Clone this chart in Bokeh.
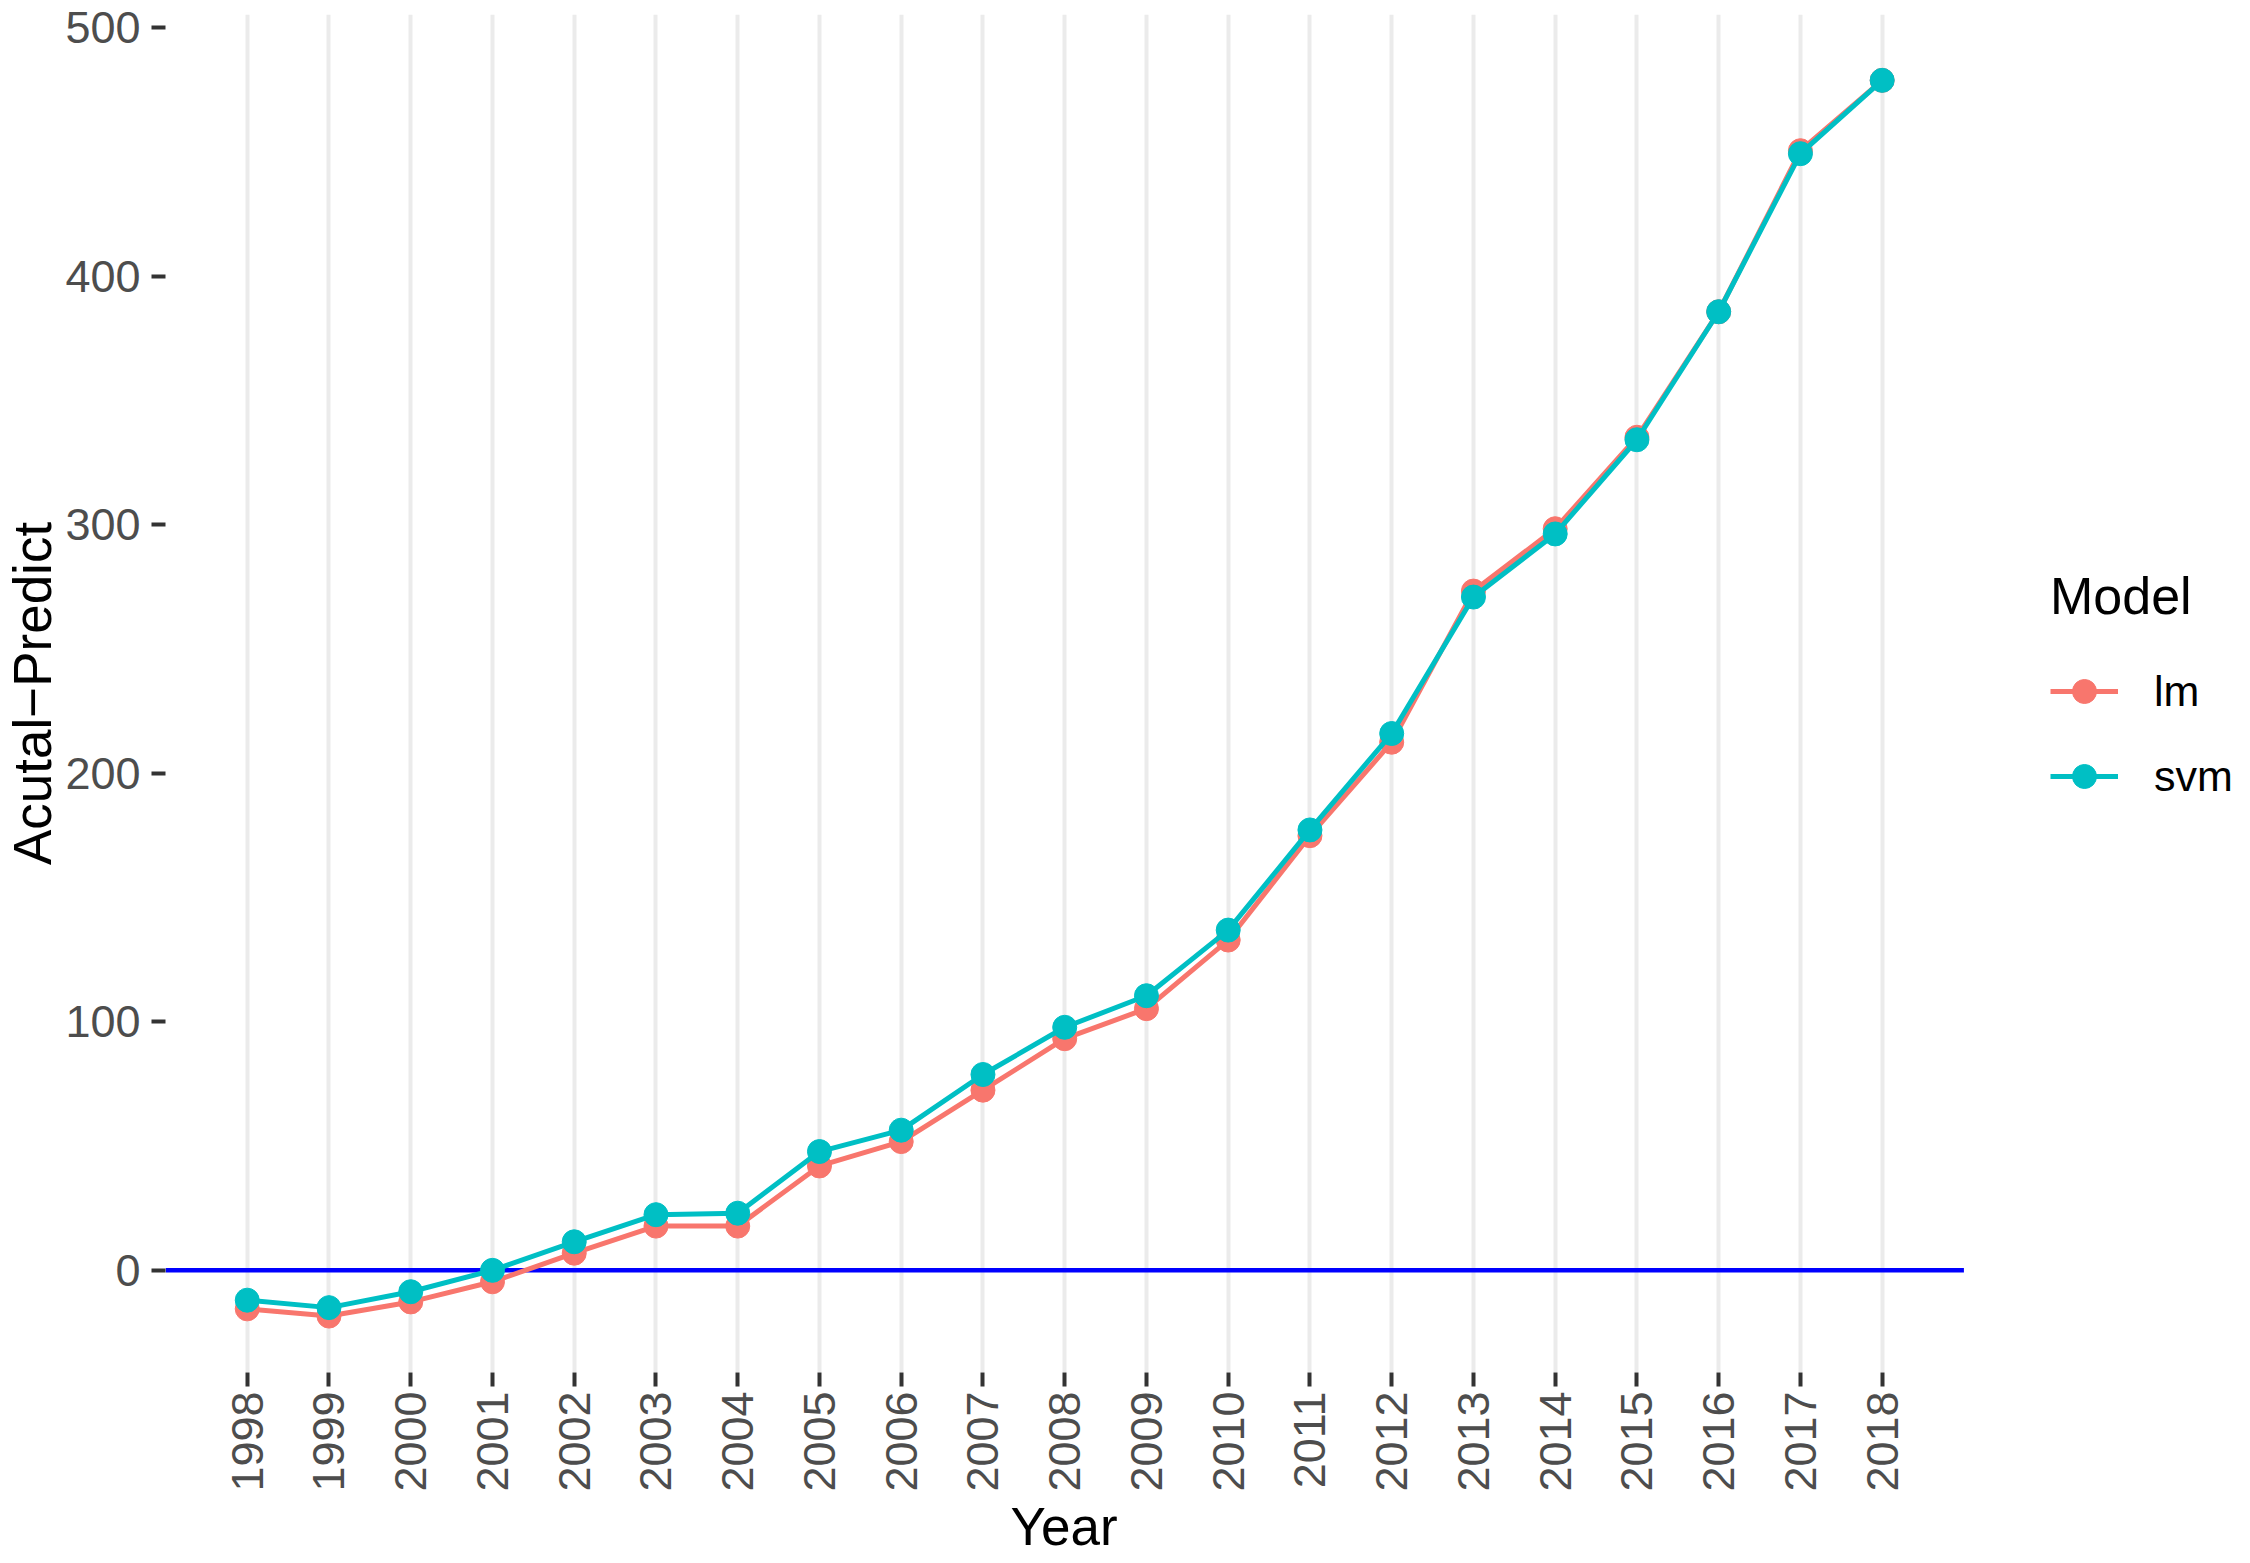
from bokeh.plotting import figure
from bokeh.models import (Range1d, FixedTicker, Legend, LegendItem, Title)
from bokeh.embed import file_html
from bokeh.resources import INLINE

years = list(range(1998, 2019))
lm = [-15.5, -18.4, -12.7, -4.6, 6.9, 17.8, 17.8, 42.0, 51.8, 72.5, 93.2,
      105.3, 132.9, 174.9, 212.5, 273.3, 298.4, 335.2, 385.7, 450.5, 478.8]
svm = [-12.0, -15.0, -8.6, 0.0, 11.5, 22.4, 23.0, 47.8, 56.4, 78.8, 97.8,
       110.5, 136.9, 177.2, 216.0, 270.9, 296.3, 334.2, 385.7, 449.3, 478.8]
y_ticks = [0, 100, 200, 300, 400, 500]
series_names = ["lm", "svm"]
series_colors = ["#F8766D", "#00BFC4"]

FONT = "Liberation Sans"

x_lo = years[0] - 1
x_hi = years[-1] + 1

p = figure(width=2234, height=1555, output_backend="svg", toolbar_location=None,
           x_range=Range1d(x_lo, 2022.31), y_range=Range1d(-41.1, 505.3),
           min_border_left=162, min_border_right=0, min_border_top=14,
           min_border_bottom=150)
p.outline_line_color = None
p.background_fill_color = "white"
p.border_fill_color = "white"

# grid
p.xgrid.ticker = FixedTicker(ticks=years)
p.xgrid.grid_line_color = "#EBEBEB"
p.xgrid.grid_line_width = 4
p.ygrid.grid_line_color = None

# x axis
p.xaxis.ticker = FixedTicker(ticks=years)
p.xaxis.major_label_orientation = 1.5707963
p.xaxis.axis_line_color = None
p.xaxis.major_tick_in = 0
p.xaxis.major_tick_out = 14
p.xaxis.minor_tick_line_color = None
p.xaxis.major_tick_line_color = "#333333"
p.xaxis.major_tick_line_width = 4
p.xaxis.major_label_standoff = 5

# y axis
p.yaxis.ticker = FixedTicker(ticks=y_ticks)
p.yaxis.axis_label = "Acutal\u2212Predict"
p.yaxis.axis_line_color = None
p.yaxis.major_tick_in = 0
p.yaxis.major_tick_out = 14
p.yaxis.minor_tick_line_color = None
p.yaxis.major_tick_line_color = "#333333"
p.yaxis.major_tick_line_width = 4
p.yaxis.major_label_standoff = 11
p.yaxis.axis_label_standoff = 0

for ax in (p.xaxis, p.yaxis):
    ax.major_label_text_font = FONT
    ax.major_label_text_font_size = "45px"
    ax.major_label_text_color = "#4D4D4D"
    ax.axis_label_text_font = FONT
    ax.axis_label_text_font_size = "53px"
    ax.axis_label_text_font_style = "normal"
    ax.axis_label_text_color = "black"

# x axis title placed under the data area
xtitle = Title(text="Year", align="left", offset=845, standoff=0,
               text_font=FONT, text_font_size="53px",
               text_font_style="normal", text_color="black")
p.add_layout(xtitle, "below")

# zero line across the data area
p.segment(x0=[x_lo], x1=[x_hi], y0=[0], y1=[0], line_color="#0000FF",
          line_width=4.5)

items = []
for name, vals, col in zip(series_names, [lm, svm], series_colors):
    lr = p.line(years, vals, line_color=col, line_width=5)
    cr = p.scatter(years, vals, size=24, fill_color=col, line_color=col)
    items.append(LegendItem(label=name, renderers=[lr, cr]))

legend = Legend(items=items, title="Model", location=(1885, 566))
legend.title_text_font = FONT
legend.title_text_font_size = "52px"
legend.title_text_font_style = "normal"
legend.title_text_color = "black"
legend.title_standoff = 35
legend.label_text_font = FONT
legend.label_text_font_size = "43px"
legend.label_text_color = "black"
legend.label_standoff = 36
legend.glyph_width = 68
legend.glyph_height = 60
legend.label_height = 60
legend.spacing = 25
legend.padding = 0
legend.margin = 0
legend.border_line_color = None
legend.background_fill_alpha = 0
p.add_layout(legend, "center")

open("out.html", "w").write(file_html(p, INLINE))
